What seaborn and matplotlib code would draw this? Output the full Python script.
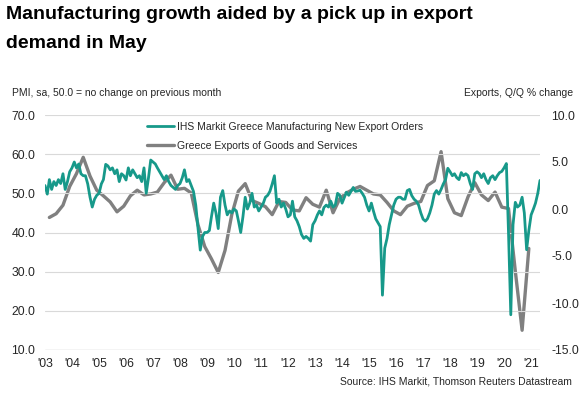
import numpy as np
import pandas as pd
import matplotlib
matplotlib.use("Agg")
import matplotlib.pyplot as plt
from matplotlib.ticker import FormatStrFormatter
import seaborn as sns

# --- data ---
# IHS Markit Greece Manufacturing PMI New Export Orders, monthly Jan 2003 - May 2021
pmi_2003 = [52, 49.8, 53.5, 51, 53, 52, 53.5, 52.5, 55, 51, 53, 55.5]
pmi_2004 = [56.5, 58, 56.5, 57.5, 55, 54.5, 54.5, 52.4, 49, 46.5, 48.5, 49.5]
pmi_2005 = [50, 52.4, 53.5, 57.4, 57, 56, 56.5, 55, 56, 53, 55, 54.5]
pmi_2006 = [53.4, 56.5, 54.5, 56, 55, 54, 54.5, 53, 56.5, 50, 54, 58.5]
pmi_2007 = [58, 57.5, 56.5, 55.5, 54.5, 53.5, 54.5, 53, 52, 51.5, 51, 52]
pmi_2008 = [52.5, 54, 56, 53, 53.5, 52, 50.5, 47, 41, 35.5, 39, 40]
pmi_2009 = [40, 40.5, 44, 47.5, 45, 41, 49, 50.7, 47, 44.5, 45.5, 45]
pmi_2010 = [46, 45.5, 43, 40, 44, 49, 46, 47.5, 50, 46.5, 47, 45.5]
pmi_2011 = [46.5, 47.5, 49, 49.5, 50.5, 52.4, 54.5, 47.5, 48.5, 46.5, 47.5, 46]
pmi_2012 = [44, 44.5, 48, 44, 43, 41.5, 39.5, 38.5, 39, 38.5, 37.8, 42]
pmi_2013 = [43, 44.5, 45.5, 44.5, 46.4, 47, 46.5, 48, 46.5, 47, 50, 49.5]
pmi_2014 = [47.5, 49, 50.3, 49.5, 50.5, 51.5, 50.5, 50.6, 50.8, 50, 49, 47]
pmi_2015 = [45.5, 47.5, 45.5, 43.5, 42.5, 41.5, 24, 36, 38.5, 42, 44.5, 47]
pmi_2016 = [48.5, 49, 49, 48.5, 48.5, 50.7, 51, 49.4, 48.5, 48, 47, 45]
pmi_2017 = [43.4, 42.9, 43.5, 45, 47, 49.8, 50.7, 49.8, 51, 52.4, 53.5, 56.4]
pmi_2018 = [55.5, 54.5, 55, 54, 53.5, 55.3, 54.5, 55, 54.5, 52.5, 51, 55]
pmi_2019 = [55.5, 55, 54, 55, 53.5, 52.5, 54, 54.5, 53.5, 54.5, 55.3, 55.6]
pmi_2020 = [56.5, 57.6, 40, 19, 42, 47.7, 46.5, 47, 49, 45, 35.6, 40.5]
pmi_2021 = [44.5, 46, 47.5, 50, 53.3]

# Greece exports of goods and services, Q/Q % change, Q1 2003 - Q4 2020
exports_q = [-0.9, -0.5, 0.4, 2.4, 3.75, 5.5, 3.5, 2.0, 1.4, 0.75, -0.3, 0.3,
             1.4, 2.0, 1.5, 1.6, 1.8, 2.8, 3.6, 2.1, 2.2, 1.7, -1.7, -4.0,
             -5.3, -6.75, -4.4, -0.6, 1.9, 2.7, 0.9, 0.6, 0.25, -0.6, 0.8, 0.7,
             -0.1, -0.2, 1.2, 0.5, 0.2, 2.0, -0.4, 1.1, 1.7, 2.1, 2.4, 2.0,
             1.6, 1.5, 0.7, -0.2, -0.6, 0.3, 0.6, 0.8, 2.5, 3.0, 6.1, 1.1,
             -0.4, -0.7, 1.3, 2.8, 1.5, 0.9, 1.8, 0.2, 0.05, -6.6, -12.9, -4.2]

year_labels = ["'%02d" % y for y in range(3, 22)]
left_ticks = [10, 20, 30, 40, 50, 60, 70]
right_ticks = [-15, -10, -5, 0, 5, 10]

TEAL = "#17998a"
GREY = "#808080"
TEXT = "#262626"

pmi = (pmi_2003 + pmi_2004 + pmi_2005 + pmi_2006 + pmi_2007 + pmi_2008 + pmi_2009
       + pmi_2010 + pmi_2011 + pmi_2012 + pmi_2013 + pmi_2014 + pmi_2015 + pmi_2016
       + pmi_2017 + pmi_2018 + pmi_2019 + pmi_2020 + pmi_2021)
pmi_dates = pd.date_range("2003-01-01", periods=len(pmi), freq="MS")
exp_dates = pd.date_range("2003-03-01", periods=len(exports_q), freq="3MS")

sns.set_theme(style="white")
plt.rcParams["font.family"] = ["Liberation Sans", "DejaVu Sans"]

fig = plt.figure(figsize=(5.86, 3.96), dpi=100)
ax = fig.add_axes([45 / 586, 1 - 350 / 396, 495 / 586, 235 / 396])
ax2 = ax.twinx()

sns.lineplot(x=exp_dates, y=exports_q, ax=ax2, color=GREY, linewidth=2.4,
             label="Greece Exports of Goods and Services", legend=False)
sns.lineplot(x=pmi_dates, y=pmi, ax=ax, color=TEAL, linewidth=2.0,
             label="IHS Markit Greece Manufacturing New Export Orders", legend=False)
ax.set_zorder(ax2.get_zorder() + 1)
ax.patch.set_visible(False)

ax.set_xlim(pmi_dates[0], pmi_dates[-1])
ax.set_ylim(10, 70)
ax2.set_ylim(-15, 10)
ax.set_yticks(left_ticks)
ax2.set_yticks(right_ticks)
ax.yaxis.set_major_formatter(FormatStrFormatter("%.1f"))
ax2.yaxis.set_major_formatter(FormatStrFormatter("%.1f"))
ax.set_xticks(pd.date_range("2003-01-01", "2021-01-01", freq="YS"))
ax.set_xticklabels(year_labels)
ax.set_xlabel("")
ax.set_ylabel("")
ax2.set_ylabel("")

ax.grid(axis="y", color="#d9d9d9", linewidth=0.8)
ax.set_axisbelow(True)
for a in (ax, ax2):
    for s in ("top", "left", "right", "bottom"):
        a.spines[s].set_visible(False)
ax.axhline(10, color="#bfbfbf", linewidth=0.9, zorder=0)
ax.tick_params(axis="x", length=3, color="#bfbfbf", labelsize=8.8, labelcolor=TEXT, pad=3)
ax.tick_params(axis="y", length=0, labelsize=8.8, labelcolor=TEXT, pad=7)
ax2.tick_params(axis="y", length=0, labelsize=8.8, labelcolor=TEXT, pad=8)

h1, l1 = ax.get_legend_handles_labels()
h2, l2 = ax2.get_legend_handles_labels()
ax.legend(h1 + h2, l1 + l2, loc="upper left", bbox_to_anchor=(147 / 586, 1 - 122 / 396),
          bbox_transform=fig.transFigure, frameon=False, fontsize=7.5, handlelength=2.6,
          handletextpad=0.25, labelspacing=0.85, borderpad=0, borderaxespad=0,
          labelcolor=TEXT)

fig.text(6 / 586, 1 - 6 / 396, "Manufacturing growth aided by a pick up in export\ndemand in May",
         ha="left", va="top", fontsize=14, fontweight="bold", color="black", linespacing=1.9)
fig.text(12 / 586, 1 - 93 / 396, "PMI, sa, 50.0 = no change on previous month",
         ha="left", va="center", fontsize=7.5, color=TEXT)
fig.text(573 / 586, 1 - 93 / 396, "Exports, Q/Q % change",
         ha="right", va="center", fontsize=7.5, color=TEXT)
fig.text(572 / 586, 1 - 381 / 396, "Source: IHS Markit, Thomson Reuters Datastream",
         ha="right", va="center", fontsize=7.5, color=TEXT)

fig.savefig("out.png", dpi=100)
